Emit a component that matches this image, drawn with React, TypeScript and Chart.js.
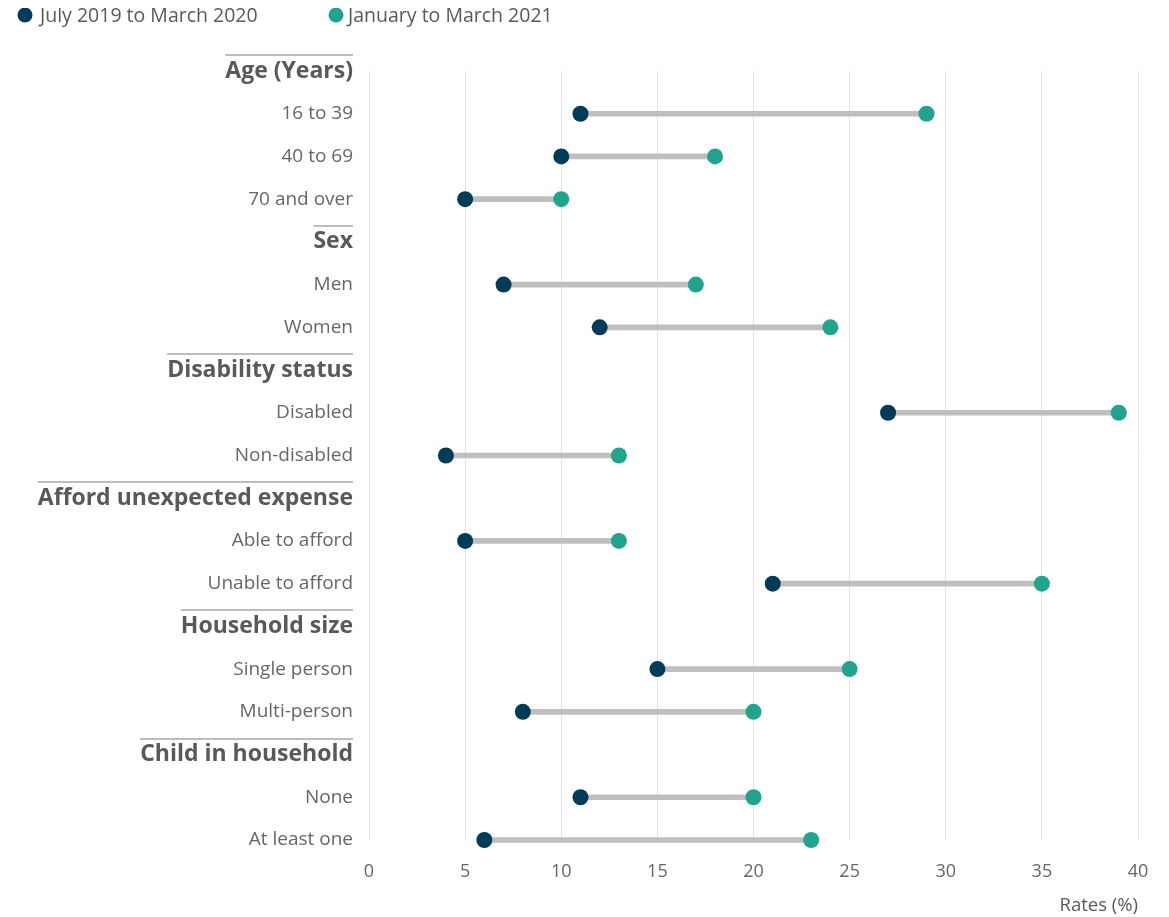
import React, { useEffect, useRef } from "react";
import { Chart, registerables } from "chart.js";
Chart.register(...registerables);

const rowLabels = [
  "Age (Years)", "16 to 39", "40 to 69", "70 and over",
  "Sex", "Men", "Women",
  "Disability status", "Disabled", "Non-disabled",
  "Afford unexpected expense", "Able to afford", "Unable to afford",
  "Household size", "Single person", "Multi-person",
  "Child in household", "None", "At least one",
];
const headerRows = [
  true, false, false, false,
  true, false, false,
  true, false, false,
  true, false, false,
  true, false, false,
  true, false, false,
];
const seriesNames = ["July 2019 to March 2020", "January to March 2021"];
const before = [null, 11, 10, 5, null, 7, 12, null, 27, 4, null, 5, 21, null, 15, 8, null, 11, 6];
const after = [null, 29, 18, 10, null, 17, 24, null, 39, 13, null, 13, 35, null, 25, 20, null, 20, 23];
const xMin = 0;
const xMax = 40;
const xStep = 5;
const xTitle = "Rates (%)";

const NAVY = "#003c57";
const TEAL = "#22a38d";
const FONT = "'Open Sans', sans-serif";
const HEADER_SIZE = 23;
const LABEL_SIZE = 19;

export default function App() {
  const ref = useRef<HTMLCanvasElement | null>(null);
  useEffect(() => {
    document.documentElement.style.overflow = "hidden";
    document.body.style.overflow = "hidden";
    const canvas = ref.current!;
    const legendPlugin = {
      id: "customLegend",
      afterDraw(chart: any) {
        const ctx = chart.ctx;
        ctx.save();
        const items = [
          { cx: 17, tx: 32, color: NAVY, text: seriesNames[0] },
          { cx: 328, tx: 340, color: TEAL, text: seriesNames[1] },
        ];
        ctx.font = `19.5px ${FONT}`;
        ctx.textBaseline = "middle";
        ctx.textAlign = "left";
        for (const it of items) {
          ctx.beginPath();
          ctx.arc(it.cx, 7, 7.5, 0, Math.PI * 2);
          ctx.fillStyle = it.color;
          ctx.fill();
          ctx.fillStyle = "#595959";
          ctx.fillText(it.text, it.tx, 8);
        }
        ctx.restore();
      },
    };
    const headerLinePlugin = {
      id: "headerLines",
      afterDraw(chart: any) {
        const ctx = chart.ctx;
        const ys = chart.scales.y;
        const right = chart.chartArea.left - 16;
        ctx.save();
        ctx.font = `bold ${HEADER_SIZE}px ${FONT}`;
        ctx.strokeStyle = "#bdbdbd";
        ctx.lineWidth = 2;
        rowLabels.forEach((lab, i) => {
          if (!headerRows[i]) return;
          const y = Math.round(ys.getPixelForTick(i) - 16);
          const w = ctx.measureText(lab).width;
          ctx.beginPath();
          ctx.moveTo(right - w, y);
          ctx.lineTo(right, y);
          ctx.stroke();
        });
        ctx.restore();
      },
    };
    const chart = new Chart(canvas, {
      type: "bar",
      data: {
        labels: rowLabels,
        datasets: [
          {
            type: "line",
            label: seriesNames[0],
            data: before as any,
            indexAxis: "y",
            showLine: false,
            pointRadius: 8,
            pointBackgroundColor: NAVY,
            pointBorderWidth: 0,
            borderColor: NAVY,
            clip: false,
            order: 0,
          } as any,
          {
            type: "line",
            label: seriesNames[1],
            data: after as any,
            indexAxis: "y",
            showLine: false,
            pointRadius: 8,
            pointBackgroundColor: TEAL,
            pointBorderWidth: 0,
            borderColor: TEAL,
            clip: false,
            order: 0,
          } as any,
          {
            type: "bar",
            label: "range",
            data: before.map((b, i) => (b == null ? null : [b, after[i]])) as any,
            backgroundColor: "#bfbfbf",
            barThickness: 5,
            borderWidth: 0,
            borderSkipped: false,
            clip: false,
            order: 1,
          } as any,
        ],
      },
      options: {
        indexAxis: "y",
        animation: false,
        responsive: true,
        maintainAspectRatio: false,
        layout: { padding: { top: 63, right: 23, left: 0, bottom: 0 } },
        plugins: { legend: { display: false }, tooltip: { enabled: false } },
        scales: {
          x: {
            type: "linear",
            position: "bottom",
            min: xMin,
            max: xMax,
            grid: {
              color: "#e3e3e3",
              lineWidth: 1,
              drawTicks: true,
              tickLength: 21,
              tickColor: "rgba(0,0,0,0)",
            },
            border: { display: false },
            ticks: { stepSize: xStep, padding: 0, color: "#666666", font: { family: FONT, size: 18 } },
            title: {
              display: true,
              text: xTitle,
              align: "end",
              color: "#595959",
              font: { family: FONT, size: 18.5 },
              padding: { top: 0, bottom: 0 },
            },
            afterFit: (s: any) => { s.height = 77; },
          },
          y: {
            type: "category",
            offset: false,
            grid: { display: false, drawTicks: false, offset: false },
            border: { display: false },
            ticks: {
              autoSkip: false,
              padding: 16,
              color: (c: any) => (headerRows[c.index] ? "#595959" : "#666666"),
              font: (c: any) =>
                headerRows[c.index]
                  ? { family: FONT, size: HEADER_SIZE, weight: "bold" }
                  : { family: FONT, size: LABEL_SIZE },
            },
            afterFit: (s: any) => { s.width = 361; },
          },
        },
      } as any,
      plugins: [legendPlugin, headerLinePlugin],
    });
    return () => chart.destroy();
  }, []);
  return (
    <div style={{ width: 1153, height: 909, position: "relative" }}>
      <canvas ref={ref} />
    </div>
  );
}
